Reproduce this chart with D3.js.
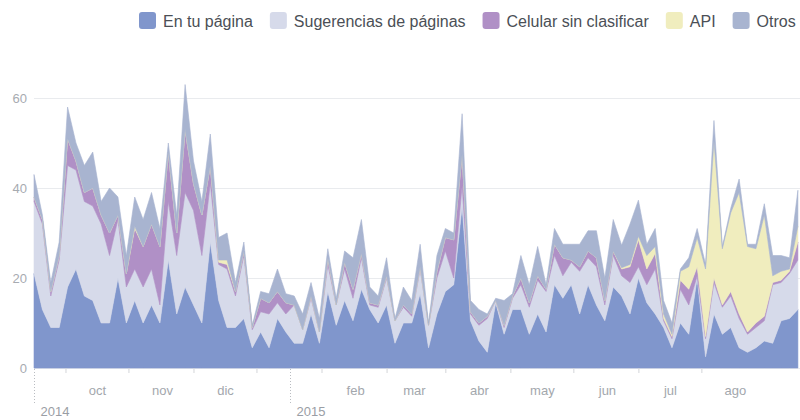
<!DOCTYPE html>
<html>
<head>
<meta charset="utf-8">
<script src="https://cdn.jsdelivr.net/npm/d3@7"></script>
<style>
  body { margin: 0; background: #fff; }
  svg { display: block; font-family: "Liberation Sans", Arial, sans-serif; }
</style>
</head>
<body>
<div id="chart"></div>
<script>
// series, bottom to top
const seriesNames = ["En tu página", "Sugerencias de páginas", "Celular sin clasificar", "API", "Otros"];
const seriesColors = ["#8096cc", "#d6daea", "#b090c6", "#f0edbe", "#a8b4d0"];

// one point every 4 days from 1 sep 2014
const startDay = "2014-09-01";
const stepDays = 4;

const enTuPagina = [
  21, 13, 9, 9, 18, 22, 16, 15, 10, 10,
  20, 10, 15, 10, 14, 10, 24, 12, 18, 14,
  10, 28, 15, 9, 9, 11, 4.5, 8, 4.5, 11,
  8, 5.5, 5.5, 12, 5.5, 17, 9.5, 15, 10.5, 17.5,
  13, 10, 14, 5.5, 10, 10, 16.5, 4.5, 12, 17,
  18.5, 36, 10.5, 6, 3.5, 14.5, 7.5, 13, 13, 7.5,
  12, 8, 18.5, 15.5, 18.5, 12, 18.5, 14, 10.5, 18,
  16, 12, 20, 14.5, 12, 9, 4.5, 10, 7.5, 20,
  2.5, 12, 7.5, 9, 4.5, 3.5, 4.5, 6, 5.5, 10.5,
  11, 13
];
const sugerencias = [
  16, 19, 7, 15, 27, 22, 21, 21, 22, 15,
  13, 8, 7, 8, 8, 4, 13, 13, 21, 21,
  15, 13, 8, 13, 7, 14, 4, 4.5, 7.5, 3.5,
  4, 8.5, 3, 3.5, 2.5, 6, 4.5, 7, 5, 7,
  1, 3.5, 6, 5, 3.5, 1.5, 5.5, 5, 8, 9,
  1.5, 4.5, 1.5, 3.5, 7.5, 0.5, 1.5, 2.5, 5.5, 6,
  7.5, 9, 6.5, 5, 5, 9.5, 6, 8.5, 3.5, 7,
  4.5, 7, 2.5, 4, 10, 1.5, 2, 7.5, 6.5, 0.5,
  4, 7, 6, 7, 6.5, 4, 4.5, 4.5, 13, 8.5,
  10, 11
];
const celular = [
  1, 1, 1, 1, 6, 2, 2, 4, 2, 5,
  1, 3, 9, 9, 10, 13, 11, 5, 14, 6,
  9, 4, 0.5, 1, 1, 1, 0.5, 3, 2.5, 2.5,
  2.5, 0, 0, 0.5, 0, 1.5, 0, 1.5, 2, 1,
  0.5, 0.5, 0.5, 0, 0.5, 0.5, 0.5, 0, 1.5, 3,
  8.5, 7, 0.5, 0.5, 0.5, 0, 0.5, 0.5, 1.5, 1,
  1, 0.5, 2.5, 4, 0.5, 1, 1.5, 2, 1, 1,
  1.5, 3.5, 6, 3.5, 3.5, 0.5, 0.5, 2, 3.5, 2,
  0.5, 1, 0.5, 1, 1, 0.5, 1, 1, 0.5, 0.5,
  0.5, 4
];
const api = [
  0, 0, 0, 0, 0, 0, 0, 0, 0, 0,
  0, 0, 0.5, 0, 0, 0, 0, 0, 0, 0,
  0, 0, 0.5, 1, 0, 0, 0, 0, 0, 0,
  0, 0, 0, 0, 0, 0, 0, 0, 0, 0,
  0, 0, 0, 0, 0, 0, 0, 0, 0, 0,
  0, 0, 0, 0, 0, 0, 0, 0, 0, 0,
  0, 0, 0, 0, 0, 0, 0, 0, 0, 0,
  0.3, 0.5, 0.8, 3, 1.5, 1, 0.5, 2, 5, 6.5,
  15, 30.5, 12.5, 17.5, 27, 19, 16.5, 22.5, 1.5, 2,
  0.5, 3.5
];
const otros = [
  5, 1, 2, 3, 7, 4, 6, 8, 3, 10,
  4, 4, 6.5, 6, 7, 4, 2, 4, 10, 5,
  3, 7, 5, 6, 2, 2, 0.5, 1.5, 2, 5,
  2, 2, 3.5, 3, 3, 2, 1.5, 2.5, 7, 7.5,
  3.5, 2, 4, 0.5, 4, 3, 5, 0.5, 3.5, 2,
  1.5, 9, 2.5, 3, 0.5, 0.5, 5.5, 0.5, 5, 4,
  6.5, 1, 3.5, 3, 3.5, 5, 4.5, 6, 5, 7,
  5, 9, 8, 2.5, 4, 3, 2.5, 0.5, 2, 2,
  1, 4.5, 0.5, 1, 3, 0.5, 1, 2.5, 4.5, 3.5,
  2.5, 8
];

const yTicks = [0, 20, 40, 60];
const monthLabels = ["oct", "nov", "dic", "feb", "mar", "abr", "may", "jun", "jul", "ago"];
const monthLabelDays = ["2014-10-01", "2014-11-01", "2014-12-01", "2015-02-01", "2015-03-01",
  "2015-04-01", "2015-05-01", "2015-06-01", "2015-07-01", "2015-08-01"];
const separatorDays = ["2014-09-16", "2014-10-16", "2014-11-16", "2014-12-16", "2015-01-16", "2015-02-16",
  "2015-03-16", "2015-04-16", "2015-05-16", "2015-06-16", "2015-07-16"];
const yearLabels = ["2014", "2015"];
const yearDays = ["2014-09-01", "2015-01-01"];

const width = 800, height = 420;
const margins = { top: 40, left: 34, right: 0, bottom: 52 };
const parseDay = d3.timeParse("%Y-%m-%d");

const columns = [enTuPagina, sugerencias, celular, api, otros];
const start = parseDay(startDay);
const rows = enTuPagina.map((v, i) => {
  const row = { date: d3.timeDay.offset(start, i * stepDays) };
  seriesNames.forEach((name, k) => { row[name] = columns[k][i]; });
  return row;
});

const svg = d3.select("#chart").append("svg")
  .attr("width", width)
  .attr("height", height);

const x = d3.scaleTime()
  .domain([parseDay("2014-09-01"), parseDay("2015-09-01")])
  .range([margins.left, width - margins.right]);

const y = d3.scaleLinear()
  .domain([0, 60])
  .range([368, 98]);

// grid lines
svg.append("g")
  .attr("transform", `translate(${margins.left},0)`)
  .call(d3.axisLeft(y).tickValues(yTicks).tickSize(-(width - margins.left - margins.right)).tickFormat(""))
  .call(g => g.select(".domain").remove())
  .call(g => g.selectAll("line").attr("stroke", "#e9ebee"));

// y labels
svg.append("g")
  .attr("transform", `translate(${margins.left},0)`)
  .call(d3.axisLeft(y).tickValues(yTicks).tickSize(0).tickPadding(7))
  .call(g => g.select(".domain").remove())
  .call(g => g.selectAll("text")
    .attr("fill", "#a7abb1")
    .style("font-size", "13px")
    .style("font-family", "'Liberation Sans', Arial, sans-serif"));

// stacked areas
const stack = d3.stack().keys(seriesNames);
const layers = stack(rows);

const area = d3.area()
  .x(d => x(d.data.date))
  .y0(d => y(d[0]))
  .y1(d => y(d[1]));

svg.append("g")
  .selectAll("path")
  .data(layers)
  .join("path")
  .attr("d", area)
  .attr("fill", (d, i) => seriesColors[i])
  .attr("stroke", (d, i) => seriesColors[i])
  .attr("stroke-width", 0.6)
  .attr("stroke-linejoin", "round");

// separator ticks between months
svg.append("g")
  .attr("transform", `translate(0,368)`)
  .call(d3.axisBottom(x).tickValues(separatorDays.map(parseDay)).tickSize(5).tickFormat(""))
  .call(g => g.select(".domain").remove())
  .call(g => g.selectAll("line").attr("stroke", "#d3d5d9"));

// month labels
svg.append("g")
  .attr("transform", `translate(0,368)`)
  .call(d3.axisBottom(x).tickValues(monthLabelDays.map(parseDay)).tickSize(0).tickPadding(18)
    .tickFormat((d, i) => monthLabels[i]))
  .call(g => g.select(".domain").remove())
  .call(g => g.selectAll("text")
    .attr("fill", "#a3a7ad")
    .style("font-size", "13px")
    .style("font-family", "'Liberation Sans', Arial, sans-serif"));

// year markers
const years = svg.append("g");
yearDays.forEach((day, i) => {
  const xp = Math.round(x(parseDay(day))) + 0.5;
  years.append("line")
    .attr("x1", xp).attr("x2", xp)
    .attr("y1", 369).attr("y2", 405)
    .attr("stroke", "#b9bcc1")
    .attr("stroke-dasharray", "1,2");
  years.append("text")
    .attr("x", xp + 6)
    .attr("y", 416)
    .attr("fill", "#9a9ea5")
    .style("font-size", "13px")
    .text(yearLabels[i]);
});

// legend
const legend = svg.append("g");
let lx = 139;
seriesNames.forEach((name, i) => {
  const item = legend.append("g").attr("transform", `translate(${lx},12)`);
  item.append("rect")
    .attr("width", 17).attr("height", 17)
    .attr("rx", 3).attr("ry", 3)
    .attr("fill", seriesColors[i]);
  const t = item.append("text")
    .attr("x", 24)
    .attr("y", 14.5)
    .attr("fill", "#4b4f56")
    .style("font-size", "16px")
    .text(name);
  lx += 24 + t.node().getComputedTextLength() + 17;
});
</script>
</body>
</html>
